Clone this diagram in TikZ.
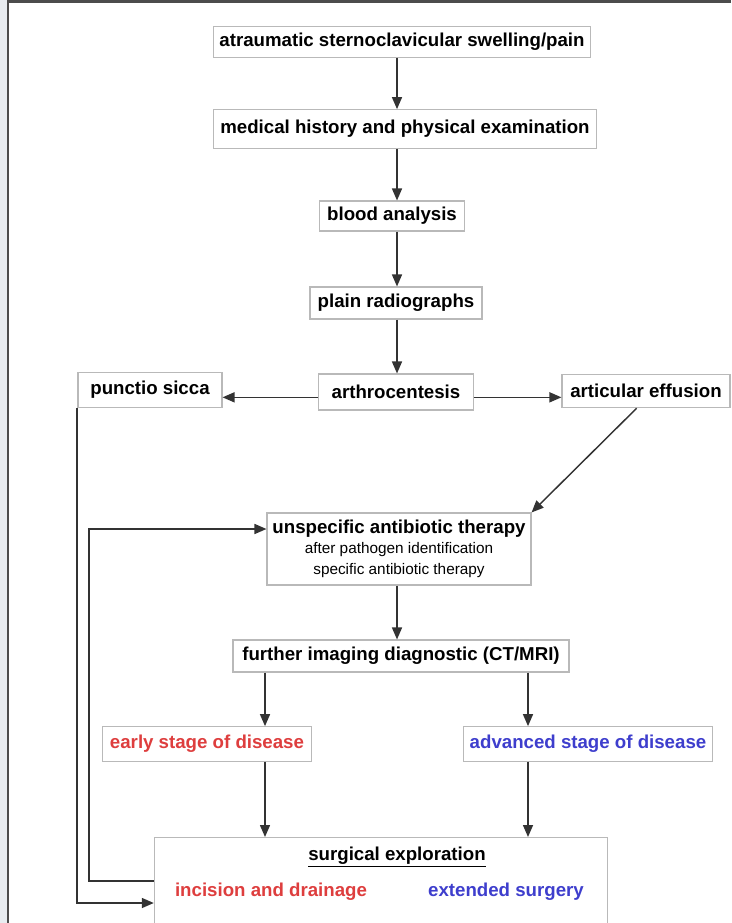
\documentclass[tikz,border=0pt]{standalone}
\usepackage{fontspec}
\setmainfont{Liberation Sans}
\usetikzlibrary{arrows.meta}

\definecolor{stagered}{RGB}{222,62,62}
\definecolor{stageblue}{RGB}{62,62,205}
\definecolor{pagegray}{RGB}{232,236,240}

\newcommand{\bigtext}{\fontsize{14}{16}\selectfont\bfseries}
\newcommand{\smalltext}{\fontsize{11.5}{13}\selectfont\mdseries}

\tikzset{
	box/.style={draw=gray!55, line width=0.8pt, fill=white, inner sep=2pt,
		minimum height=24pt, font=\bigtext},
	flow/.style={draw=black!80, line width=1.1pt, -{Triangle[length=9pt,width=7.5pt]}},
	plain text/.style={inner sep=1pt, font=\bigtext}
}

\begin{document}
\begin{tikzpicture}[x=0.75pt,y=-0.75pt]
	\useasboundingbox (0,0) rectangle (731,923);
	\clip (0,0) rectangle (731,923);
	% page frame
	\fill[pagegray] (0,0) rectangle (7,923);
	\draw[gray!60!black, line width=1.6pt] (8,923) -- (8,1.5) -- (731,1.5);
	% guide lines
	\coordinate (axis) at (397,0);
	\coordinate (lane1) at (265,0);
	\coordinate (lane2) at (528,0);
	% main column
	\node[box, minimum width=283pt, minimum height=23pt] (swelling) at (402,42) {atraumatic sternoclavicular swelling/pain};
	\node[box, minimum width=287pt, minimum height=29pt] (history) at (405,129) {medical history and physical examination};
	\node[box, minimum width=109pt, minimum height=22.5pt] (blood) at (392,216) {blood analysis};
	\node[box, minimum width=129pt] (radiographs) at (396,303) {plain radiographs};
	\node[box, minimum width=116pt, minimum height=27pt] (arthro) at (396,392) {arthrocentesis};
	% side branches
	\node[box, minimum width=108pt, minimum height=26pt] (sicca) at (150,390) {punctio sicca};
	\node[box, minimum width=126pt, minimum height=25pt] (effusion) at (646,391) {articular effusion};
	% therapy and imaging
	\node[box, minimum width=198pt, minimum height=54pt, align=center] (therapy) at (399,549)
	{unspecific antibiotic therapy\\[-1pt]
		{\smalltext after pathogen identification}\\
		{\smalltext specific antibiotic therapy}};
	\node[box, minimum width=252pt] (imaging) at (401,656) {further imaging diagnostic (CT/MRI)};
	% stages
	\node[box, minimum width=157pt, minimum height=26pt, text=stagered] (early) at (207,744) {early stage of disease};
	\node[box, minimum width=187pt, minimum height=26pt, text=stageblue] (advanced) at (588,744) {advanced stage of disease};
	% surgery
	\node[box, minimum width=340pt, minimum height=90pt, anchor=north] (surgery) at (381,837) {};
	\node[plain text] (exploration) at (397,857) {\underline{surgical exploration}};
	\node[plain text, text=stagered] (incision) at (271,892) {incision and drainage};
	\node[plain text, text=stageblue] (extended) at (506,892) {extended surgery};
	% arrows down the column
	\draw[flow] (swelling.south -| axis) -- (history.north -| axis);
	\draw[flow] (history.south -| axis) -- (blood.north -| axis);
	\draw[flow] (blood.south -| axis) -- (radiographs.north -| axis);
	\draw[flow] (radiographs.south -| axis) -- (arthro.north -| axis);
	\draw[flow] ([yshift=-4pt]arthro.west) -- ([yshift=-4pt]arthro.west -| sicca.east);
	\draw[flow] ([yshift=-4pt]arthro.east) -- ([yshift=-4pt]arthro.east -| effusion.west);
	\draw[flow] ([xshift=-7pt]effusion.south) -- (therapy.north east);
	\draw[flow] (therapy.south -| axis) -- (imaging.north -| axis);
	\draw[flow] (imaging.south -| lane1) -- (early.north -| lane1);
	\draw[flow] (imaging.south -| lane2) -- (advanced.north -| lane2);
	\draw[flow] (early.south -| lane1) -- (surgery.north -| lane1);
	\draw[flow] (advanced.south -| lane2) -- (surgery.north -| lane2);
	% loops back
	\coordinate (backtop) at (89,529);
	\coordinate (backbot) at (89,881);
	\coordinate (dry) at (77,903);
	\draw[flow] (surgery.west |- backbot) -- (backbot) -- (backtop) -- (therapy.west |- backtop);
	\draw[flow] (sicca.south -| dry) -- (dry) -- (surgery.west |- dry);
\end{tikzpicture}
\end{document}
